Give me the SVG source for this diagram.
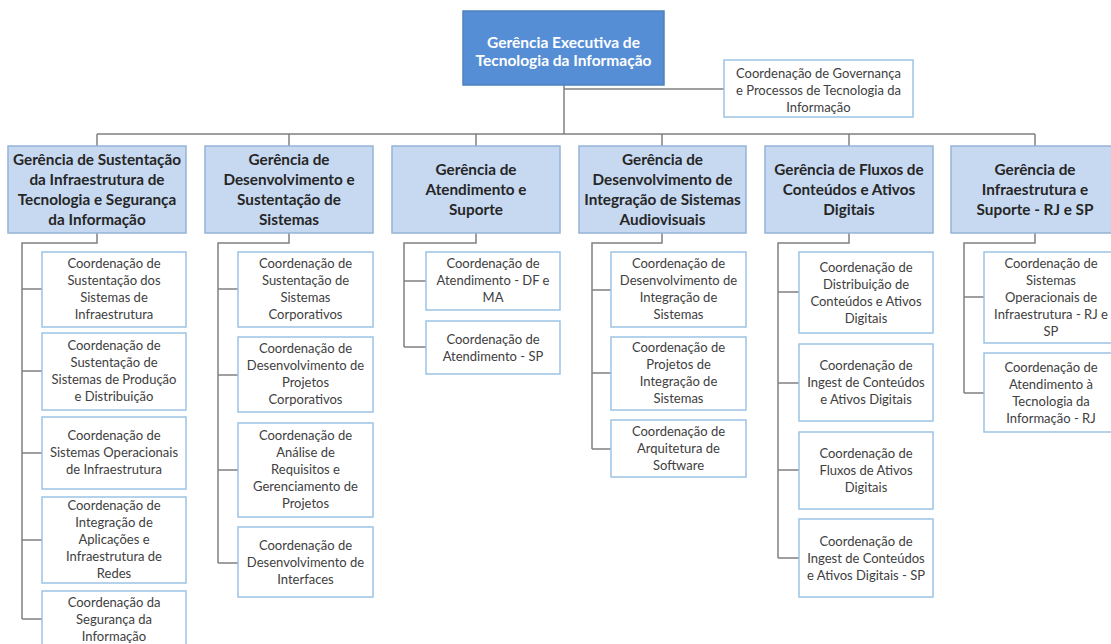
<svg xmlns="http://www.w3.org/2000/svg" width="1111" height="644" viewBox="0 0 1111 644">
<style>
.top{fill:#558ED5;stroke:#4F81BD;stroke-width:1.5}
.ger{fill:#C6D9F1;stroke:#95B3D7;stroke-width:1.5}
.co{fill:#FFFFFF;stroke:#9DC3E6;stroke-width:1.5}
.tt{font-family:Lato,"Open Sans",sans-serif;font-weight:bold;font-size:15.5px;fill:#FFFFFF;text-anchor:middle}
.tg{font-family:Lato,"Open Sans",sans-serif;font-weight:bold;font-size:15.3px;fill:#262626;text-anchor:middle}
.tc{font-family:Lato,"Open Sans",sans-serif;font-size:13px;fill:#404040;text-anchor:middle}
.cn{fill:none;stroke:#808080;stroke-width:1.5}
</style>
<rect width="1111" height="644" fill="#FFFFFF"/>
<g id="connectors" class="cn">
<path d="M564 85V134M564 89H724"/>
<path d="M97 134H1035M97 134V146M289 134V146M476 134V146M662 134V146M849 134V146M1035 134V146"/>
<path d="M97 233V243H22V619M22 289H42M22 371H42M22 453H42M22 540H42M22 619H42"/>
<path d="M289 233V243H218V563M218 289H238M218 375H238M218 470H238M218 563H238"/>
<path d="M476 233V243H404V347M404 281H426M404 347H426"/>
<path d="M662 233V243H592V449M592 290H611M592 373H611M592 449H611"/>
<path d="M849 233V243H778V558M778 292H799M778 383H799M778 470H799M778 558H799"/>
<path d="M1035 233V243H964V393M964 297H984M964 393H984"/>
</g>
<g id="n-exec"><rect class="top" x="463" y="11" width="201" height="74"/>
<text class="tt" x="563.5" y="47.5">Gerência Executiva de</text><text class="tt" x="563.5" y="65.5">Tecnologia da Informação</text></g>
<g id="n-gov"><rect class="co" x="724" y="60" width="189" height="57"/>
<text class="tc" x="818.5" y="77.5">Coordenação de Governança</text><text class="tc" x="818.5" y="94.5">e Processos de Tecnologia da</text><text class="tc" x="818.5" y="111.5">Informação</text></g>

<g id="g1"><rect class="ger" x="8" y="146" width="178" height="87"/>
<text class="tg" x="97" y="165">Gerência de Sustentação</text><text class="tg" x="97" y="185">da Infraestrutura de</text><text class="tg" x="97" y="205">Tecnologia e Segurança</text><text class="tg" x="97" y="225">da Informação</text></g>
<g id="g2"><rect class="ger" x="205" y="146" width="168" height="87"/>
<text class="tg" x="289" y="165">Gerência de</text><text class="tg" x="289" y="185">Desenvolvimento e</text><text class="tg" x="289" y="205">Sustentação de</text><text class="tg" x="289" y="225">Sistemas</text></g>
<g id="g3"><rect class="ger" x="392" y="146" width="168" height="87"/>
<text class="tg" x="476" y="175">Gerência de</text><text class="tg" x="476" y="195">Atendimento e</text><text class="tg" x="476" y="215">Suporte</text></g>
<g id="g4"><rect class="ger" x="579" y="146" width="167" height="87"/>
<text class="tg" x="662.5" y="165">Gerência de</text><text class="tg" x="662.5" y="185">Desenvolvimento de</text><text class="tg" x="662.5" y="205">Integração de Sistemas</text><text class="tg" x="662.5" y="225">Audiovisuais</text></g>
<g id="g5"><rect class="ger" x="765" y="146" width="168" height="87"/>
<text class="tg" x="849" y="175">Gerência de Fluxos de</text><text class="tg" x="849" y="195">Conteúdos e Ativos</text><text class="tg" x="849" y="215">Digitais</text></g>
<g id="g6"><rect class="ger" x="951" y="146" width="168" height="87"/>
<text class="tg" x="1035" y="175">Gerência de</text><text class="tg" x="1035" y="195">Infraestrutura e</text><text class="tg" x="1035" y="215">Suporte - RJ e SP</text></g>

<g id="c1-1"><rect class="co" x="42" y="252" width="144" height="75"/>
<text class="tc" x="114" y="268">Coordenação de</text><text class="tc" x="114" y="285">Sustentação dos</text><text class="tc" x="114" y="302">Sistemas de</text><text class="tc" x="114" y="319">Infraestrutura</text></g>
<g id="c1-2"><rect class="co" x="42" y="333" width="144" height="77"/>
<text class="tc" x="114" y="350">Coordenação de</text><text class="tc" x="114" y="367">Sustentação de</text><text class="tc" x="114" y="384">Sistemas de Produção</text><text class="tc" x="114" y="401">e Distribuição</text></g>
<g id="c1-3"><rect class="co" x="42" y="417" width="144" height="72"/>
<text class="tc" x="114" y="440">Coordenação de</text><text class="tc" x="114" y="457">Sistemas Operacionais</text><text class="tc" x="114" y="474">de Infraestrutura</text></g>
<g id="c1-4"><rect class="co" x="42" y="497" width="144" height="86"/>
<text class="tc" x="114" y="510">Coordenação de</text><text class="tc" x="114" y="527">Integração de</text><text class="tc" x="114" y="544">Aplicações e</text><text class="tc" x="114" y="561">Infraestrutura de</text><text class="tc" x="114" y="578">Redes</text></g>
<g id="c1-5"><rect class="co" x="42" y="591" width="144" height="62"/>
<text class="tc" x="114" y="607">Coordenação da</text><text class="tc" x="114" y="624">Segurança da</text><text class="tc" x="114" y="641">Informação</text></g>

<g id="c2-1"><rect class="co" x="238" y="252" width="135" height="75"/>
<text class="tc" x="305.5" y="268">Coordenação de</text><text class="tc" x="305.5" y="285">Sustentação de</text><text class="tc" x="305.5" y="302">Sistemas</text><text class="tc" x="305.5" y="319">Corporativos</text></g>
<g id="c2-2"><rect class="co" x="238" y="337" width="135" height="75"/>
<text class="tc" x="305.5" y="353">Coordenação de</text><text class="tc" x="305.5" y="370">Desenvolvimento de</text><text class="tc" x="305.5" y="387">Projetos</text><text class="tc" x="305.5" y="404">Corporativos</text></g>
<g id="c2-3"><rect class="co" x="238" y="423" width="135" height="94"/>
<text class="tc" x="305.5" y="440">Coordenação de</text><text class="tc" x="305.5" y="457">Análise de</text><text class="tc" x="305.5" y="474">Requisitos e</text><text class="tc" x="305.5" y="491">Gerenciamento de</text><text class="tc" x="305.5" y="508">Projetos</text></g>
<g id="c2-4"><rect class="co" x="238" y="527" width="135" height="70"/>
<text class="tc" x="305.5" y="550">Coordenação de</text><text class="tc" x="305.5" y="567">Desenvolvimento de</text><text class="tc" x="305.5" y="584">Interfaces</text></g>

<g id="c3-1"><rect class="co" x="426" y="252" width="134" height="58"/>
<text class="tc" x="493" y="268">Coordenação de</text><text class="tc" x="493" y="285">Atendimento - DF e</text><text class="tc" x="493" y="302">MA</text></g>
<g id="c3-2"><rect class="co" x="426" y="321" width="134" height="53"/>
<text class="tc" x="493" y="344">Coordenação de</text><text class="tc" x="493" y="361">Atendimento - SP</text></g>

<g id="c4-1"><rect class="co" x="611" y="252" width="135" height="75"/>
<text class="tc" x="678.5" y="268">Coordenação de</text><text class="tc" x="678.5" y="285">Desenvolvimento de</text><text class="tc" x="678.5" y="302">Integração de</text><text class="tc" x="678.5" y="319">Sistemas</text></g>
<g id="c4-2"><rect class="co" x="611" y="337" width="135" height="73"/>
<text class="tc" x="678.5" y="352">Coordenação de</text><text class="tc" x="678.5" y="369">Projetos de</text><text class="tc" x="678.5" y="386">Integração de</text><text class="tc" x="678.5" y="403">Sistemas</text></g>
<g id="c4-3"><rect class="co" x="611" y="420" width="135" height="57"/>
<text class="tc" x="678.5" y="436">Coordenação de</text><text class="tc" x="678.5" y="453">Arquitetura de</text><text class="tc" x="678.5" y="470">Software</text></g>

<g id="c5-1"><rect class="co" x="799" y="252" width="134" height="81"/>
<text class="tc" x="866" y="272">Coordenação de</text><text class="tc" x="866" y="289">Distribuição de</text><text class="tc" x="866" y="306">Conteúdos e Ativos</text><text class="tc" x="866" y="323">Digitais</text></g>
<g id="c5-2"><rect class="co" x="799" y="344" width="134" height="77"/>
<text class="tc" x="866" y="370">Coordenação de</text><text class="tc" x="866" y="387">Ingest de Conteúdos</text><text class="tc" x="866" y="404">e Ativos Digitais</text></g>
<g id="c5-3"><rect class="co" x="799" y="432" width="134" height="77"/>
<text class="tc" x="866" y="458">Coordenação de</text><text class="tc" x="866" y="475">Fluxos de Ativos</text><text class="tc" x="866" y="492">Digitais</text></g>
<g id="c5-4"><rect class="co" x="799" y="519" width="134" height="78"/>
<text class="tc" x="866" y="546">Coordenação de</text><text class="tc" x="866" y="563">Ingest de Conteúdos</text><text class="tc" x="866" y="580">e Ativos Digitais - SP</text></g>

<g id="c6-1"><rect class="co" x="984" y="252" width="136" height="91"/>
<text class="tc" x="1051" y="268">Coordenação de</text><text class="tc" x="1051" y="285">Sistemas</text><text class="tc" x="1051" y="302">Operacionais de</text><text class="tc" x="1051" y="319">Infraestrutura - RJ e</text><text class="tc" x="1051" y="336">SP</text></g>
<g id="c6-2"><rect class="co" x="984" y="353" width="136" height="79"/>
<text class="tc" x="1051" y="372">Coordenação de</text><text class="tc" x="1051" y="389">Atendimento à</text><text class="tc" x="1051" y="406">Tecnologia da</text><text class="tc" x="1051" y="423">Informação - RJ</text></g>
</svg>
